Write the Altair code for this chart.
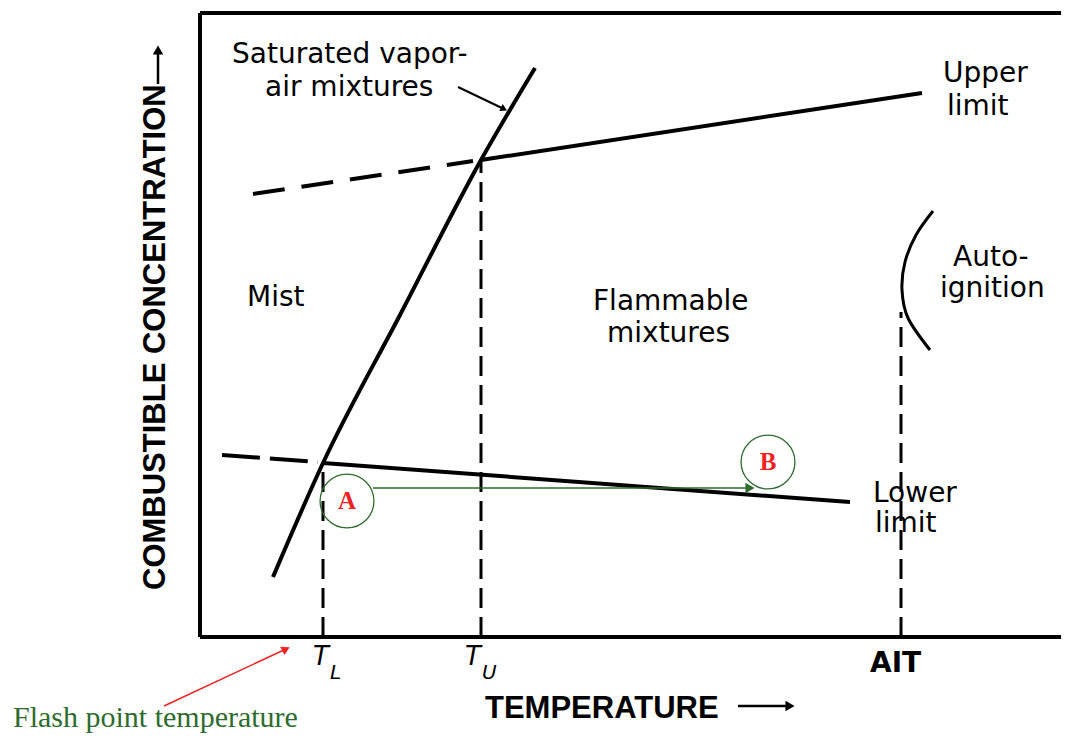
import altair as alt
import pandas as pd

# ---------------- data (diagram units: x = temperature, y = combustible concentration) -------------
X_MAX, Y_MAX = 861, 624
T_L, T_U, AIT = 123, 281, 701

# saturated vapour-air mixture curve
sat_T = [73, 123, 200, 281, 335]
sat_C = [60, 174, 322, 477, 569]

# upper flammability limit (solid part above T_U, dashed extrapolation below)
upper_T = [281, 722]
upper_C = [477, 544]
upper_dash_T = [53, 273]
upper_dash_C = [443, 476]

# lower flammability limit
lower_T = [123, 650]
lower_C = [174, 135]
lower_dash_T = [22, 118]
lower_dash_C = [182, 175]

# auto-ignition boundary
ait_curve_T = [733, 716, 705, 702, 708, 730]
ait_curve_C = [426, 402, 375, 347, 319, 287]
ait_top_C = 325

# state points A -> B
point_names = ["A", "B"]
point_T = [147, 568]
point_C = [136, 175]
arrow_AB_T = [173, 548]
arrow_AB_C = 149

# region / curve labels
region_labels = ["Saturated vapor-", "air mixtures", "Upper", "limit", "Mist",
                 "Flammable", "mixtures", "Auto-", "ignition", "Lower", "limit"]
region_T = [32, 65, 743, 747, 47, 393, 407, 753, 740, 673, 675]
region_C = [574, 541, 555, 522, 331, 327, 295, 371, 340, 135, 105]

# AIT tick label
ait_label = "AIT"
ait_label_T, ait_label_C = 670, -35

# leader from "air mixtures" to the saturation curve
leader_T = [258, 304]
leader_C = [550, 528]

# temperature tick labels T_L, T_U
tick_T = [113, 265]
tick_C = -28
sub_labels = ["L", "U"]
sub_T = [130, 282]
sub_C = -42

# axis titles
x_title = "TEMPERATURE"
x_title_T, x_title_C = 285, -81
x_arrow_T = [538, 590]
x_arrow_C = -69
y_title = "COMBUSTIBLE  CONCENTRATION"
y_title_T, y_title_C = -35, 47
y_arrow_T = -42
y_arrow_C = [553, 587]

# flash point annotation
flash_label = "Flash point temperature"
flash_T, flash_C = -187, -90
flash_arrow_T = [-36, 86]
flash_arrow_C = [-69, -12]

# ---------------- helpers -------------------------------------------------------------------------
xs = alt.Scale(domain=[0, X_MAX], nice=False, zero=False)
ys = alt.Scale(domain=[0, Y_MAX], nice=False, zero=False)


def X(f="x"):
    return alt.X(f, type="quantitative", scale=xs, axis=None)


def Y(f="y"):
    return alt.Y(f, type="quantitative", scale=ys, axis=None)


GREEN = "#2e6b2e"
RED = "#ee2222"

# frame (left, top, bottom)
frame = pd.DataFrame({"x": [0, 0, 0], "x2": [0, X_MAX, X_MAX],
                      "y": [0, Y_MAX, 0], "y2": [Y_MAX, Y_MAX, 0]})
frame_layer = alt.Chart(frame).mark_rule(color="black", strokeWidth=4).encode(
    x=X(), y=Y(), x2="x2", y2="y2")

# saturation curve
sat = pd.DataFrame({"x": sat_T, "y": sat_C, "o": range(len(sat_T))})
sat_layer = alt.Chart(sat).mark_line(color="black", strokeWidth=4, interpolate="monotone").encode(
    x=X(), y=Y(), order="o:Q")

# solid limit lines
solid = pd.DataFrame({"x": [upper_T[0], lower_T[0]], "x2": [upper_T[1], lower_T[1]],
                      "y": [upper_C[0], lower_C[0]], "y2": [upper_C[1], lower_C[1]]})
solid_layer = alt.Chart(solid).mark_rule(color="black", strokeWidth=4).encode(
    x=X(), y=Y(), x2="x2", y2="y2")

up_dash = pd.DataFrame({"x": [upper_dash_T[0]], "x2": [upper_dash_T[1]],
                        "y": [upper_dash_C[0]], "y2": [upper_dash_C[1]]})
up_dash_layer = alt.Chart(up_dash).mark_rule(color="black", strokeWidth=4, strokeDash=[32, 17]).encode(
    x=X(), y=Y(), x2="x2", y2="y2")

lo_dash = pd.DataFrame({"x": [lower_dash_T[0]], "x2": [lower_dash_T[1]],
                        "y": [lower_dash_C[0]], "y2": [lower_dash_C[1]]})
lo_dash_layer = alt.Chart(lo_dash).mark_rule(color="black", strokeWidth=4, strokeDash=[38, 10]).encode(
    x=X(), y=Y(), x2="x2", y2="y2")

# vertical dashed lines at T_L, T_U, AIT
vert = pd.DataFrame({"x": [T_L, T_U, AIT], "y": [0, 0, 0],
                     "y2": [lower_C[0], upper_C[0], ait_top_C]})
vert_layer = alt.Chart(vert).mark_rule(color="black", strokeWidth=3, strokeDash=[20, 9]).encode(
    x=X(), y=Y(), y2="y2")

# auto-ignition arc
arc = pd.DataFrame({"x": ait_curve_T, "y": ait_curve_C, "o": range(len(ait_curve_T))})
arc_layer = alt.Chart(arc).mark_line(color="black", strokeWidth=3, interpolate="cardinal").encode(
    x=X(), y=Y(), order="o:Q")

# leader line + head
leader = pd.DataFrame({"x": [leader_T[0]], "x2": [leader_T[1]], "y": [leader_C[0]], "y2": [leader_C[1]]})
leader_layer = alt.Chart(leader).mark_rule(color="black", strokeWidth=2).encode(
    x=X(), y=Y(), x2="x2", y2="y2")
leader_head = alt.Chart(pd.DataFrame({"x": [leader_T[1]], "y": [leader_C[1]]})).mark_point(
    shape="triangle-right", filled=True, color="black", size=60, angle=26, opacity=1).encode(x=X(), y=Y())

# A -> B arrow
ab = pd.DataFrame({"x": [arrow_AB_T[0]], "x2": [arrow_AB_T[1]], "y": [arrow_AB_C]})
ab_layer = alt.Chart(ab).mark_rule(color=GREEN, strokeWidth=1.6).encode(x=X(), y=Y(), x2="x2")
ab_head = alt.Chart(pd.DataFrame({"x": [arrow_AB_T[1] + 2], "y": [arrow_AB_C]})).mark_point(
    shape="triangle-right", filled=True, color=GREEN, size=110, opacity=1).encode(x=X(), y=Y())

pts = pd.DataFrame({"x": point_T, "y": point_C, "name": point_names})
circle_layer = alt.Chart(pts).mark_point(shape="circle", size=2900, filled=False, stroke=GREEN,
                                         strokeWidth=1.3, opacity=1).encode(x=X(), y=Y())
letter_layer = alt.Chart(pts).mark_text(font="Liberation Serif", fontWeight="bold", fontSize=25,
                                        color=RED, align="center", baseline="middle").encode(
    x=X(), y=Y(), text="name:N")

# region labels
reg = pd.DataFrame({"x": region_T, "y": region_C, "t": region_labels})
reg_layer = alt.Chart(reg).mark_text(font="DejaVu Sans", fontSize=28, color="black", align="left",
                                     baseline="alphabetic").encode(x=X(), y=Y(), text="t:N")

ait_layer = alt.Chart(pd.DataFrame({"x": [ait_label_T], "y": [ait_label_C], "t": [ait_label]})).mark_text(
    font="DejaVu Sans", fontWeight="bold", fontSize=28, color="black", align="left",
    baseline="alphabetic").encode(x=X(), y=Y(), text="t:N")

# T_L / T_U labels
ticks = pd.DataFrame({"x": tick_T, "y": [tick_C] * 2, "t": ["T", "T"]})
tick_layer = alt.Chart(ticks).mark_text(font="DejaVu Sans", fontStyle="italic", fontSize=26, color="black",
                                        align="left", baseline="alphabetic").encode(x=X(), y=Y(), text="t:N")
subs = pd.DataFrame({"x": sub_T, "y": [sub_C] * 2, "t": sub_labels})
sub_layer = alt.Chart(subs).mark_text(font="DejaVu Sans", fontStyle="italic", fontSize=20, color="black",
                                      align="left", baseline="alphabetic").encode(x=X(), y=Y(), text="t:N")

# axis titles
xt = alt.Chart(pd.DataFrame({"x": [x_title_T], "y": [x_title_C], "t": [x_title]})).mark_text(
    font="Liberation Sans", fontWeight="bold", fontSize=31, color="black", align="left",
    baseline="alphabetic").encode(x=X(), y=Y(), text="t:N")
xa = alt.Chart(pd.DataFrame({"x": [x_arrow_T[0]], "x2": [x_arrow_T[1]], "y": [x_arrow_C]})).mark_rule(
    color="black", strokeWidth=2.5).encode(x=X(), y=Y(), x2="x2")
xa_head = alt.Chart(pd.DataFrame({"x": [x_arrow_T[1]], "y": [x_arrow_C]})).mark_point(
    shape="triangle-right", filled=True, color="black", size=110, opacity=1).encode(x=X(), y=Y())

yt = alt.Chart(pd.DataFrame({"x": [y_title_T], "y": [y_title_C], "t": [y_title]})).mark_text(
    font="Liberation Sans Narrow, Liberation Sans", fontWeight="bold", fontSize=31, color="black",
    align="left", baseline="alphabetic", angle=270).encode(x=X(), y=Y(), text="t:N")
ya = alt.Chart(pd.DataFrame({"x": [y_arrow_T], "y": [y_arrow_C[0]], "y2": [y_arrow_C[1]]})).mark_rule(
    color="black", strokeWidth=2.5).encode(x=X(), y=Y(), y2="y2")
ya_head = alt.Chart(pd.DataFrame({"x": [y_arrow_T], "y": [y_arrow_C[1]]})).mark_point(
    shape="triangle-up", filled=True, color="black", size=110, opacity=1).encode(x=X(), y=Y())

# flash point annotation
fl = alt.Chart(pd.DataFrame({"x": [flash_T], "y": [flash_C], "t": [flash_label]})).mark_text(
    font="Liberation Serif", fontSize=30, color=GREEN, align="left", baseline="alphabetic").encode(
    x=X(), y=Y(), text="t:N")
fa = alt.Chart(pd.DataFrame({"x": [flash_arrow_T[0]], "x2": [flash_arrow_T[1]],
                             "y": [flash_arrow_C[0]], "y2": [flash_arrow_C[1]]})).mark_rule(
    color=RED, strokeWidth=1.5).encode(x=X(), y=Y(), x2="x2", y2="y2")
fa_head = alt.Chart(pd.DataFrame({"x": [flash_arrow_T[1]], "y": [flash_arrow_C[1]]})).mark_point(
    shape="triangle-up", filled=True, color=RED, size=90, angle=63, opacity=1).encode(x=X(), y=Y())

chart = alt.layer(
    frame_layer, sat_layer, solid_layer, up_dash_layer, lo_dash_layer, vert_layer, arc_layer,
    leader_layer, leader_head, ab_layer, ab_head, circle_layer, letter_layer,
    reg_layer, ait_layer, tick_layer, sub_layer, xt, xa, xa_head, yt, ya, ya_head, fl, fa, fa_head,
).properties(
    width=X_MAX, height=Y_MAX,
    autosize=alt.AutoSizeParams(type="none"),
    padding={"left": 192, "top": 5, "right": 0, "bottom": 97},
).configure_view(stroke=None).configure(background="white")

chart.save("out.html", embed_options={"renderer": "svg", "actions": False})
